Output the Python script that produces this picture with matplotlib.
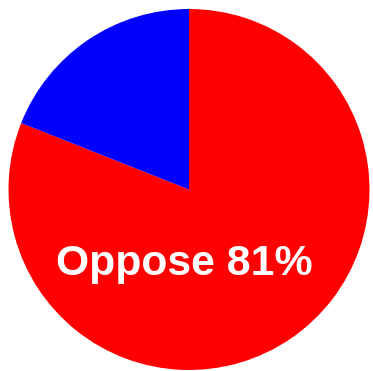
import matplotlib
matplotlib.use("Agg")
import matplotlib.pyplot as plt

labels = ["Oppose", "Support"]
values = [81, 19]
colors = ["#ff0000", "#0000ff"]

W, H = 373, 371
fig = plt.figure(figsize=(W / 100, H / 100), dpi=100, facecolor="white")

cx, cy, r = 189, 189.5, 180.5
ax = fig.add_axes([(cx - r) / W, (H - cy - r) / H, 2 * r / W, 2 * r / H])
ax.pie(values, colors=colors, startangle=90, counterclock=False,
       wedgeprops=dict(linewidth=0))
ax.set_xlim(-1, 1)
ax.set_ylim(-1, 1)
ax.set_aspect("equal")
ax.axis("off")

ax.text(-0.028, -0.474, f"{labels[0]} {values[0]}%", color="white",
        fontsize=30.8, fontweight="bold", family="Liberation Sans",
        ha="center", va="baseline")

fig.savefig("out.png", dpi=100)
